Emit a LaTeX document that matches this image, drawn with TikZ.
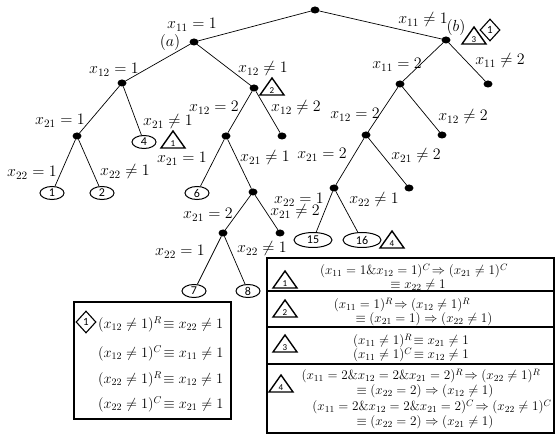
\RequirePackage{fix-cm}
\documentclass[tikz,border=0pt]{standalone}
\usepackage{fontspec}
\newfontfamily\carl{Carlito}
\usetikzlibrary{shapes.geometric}
\tikzset{
  dot/.style={ellipse, fill, minimum width=9pt, minimum height=7pt, inner sep=0pt, outer sep=0pt},
  leaf/.style={ellipse, draw, line width=1pt, minimum width=24pt, minimum height=13pt, inner sep=0pt, font=\carl\fontsize{12}{12}\selectfont},
  bigleaf/.style={leaf, minimum width=38pt, minimum height=15pt},
  lbl/.style={inner sep=0pt, font=\fontsize{16}{18}\selectfont},
  rtxt/.style={inner sep=0pt, font=\fontsize{13.2}{15}\selectfont},
  ltxt/.style={inner sep=0pt, anchor=west, font=\fontsize{14.4}{16}\selectfont},
  edge/.style={line width=0.7pt},
  dia/.style={diamond, draw, line width=1.1pt, inner sep=0pt, minimum width=20pt, minimum height=22pt, font=\carl\fontsize{11}{11}\selectfont},
  trimk/.style={line width=1.4pt, line join=miter},
  trinum/.style={inner sep=0pt, font=\carl\fontsize{9}{9}\selectfont},
  boxst/.style={draw, line width=1.2pt, inner sep=0pt},
}
\newcommand\trimark[3]{%
  \coordinate (#1) at (#2);
  \draw[trimk] ([shift={(-12,8)}]#1) -- ([shift={(0,-9)}]#1) -- ([shift={(12,8)}]#1) -- cycle;
  \node[trinum] (#1n) at ([shift={(0,4)}]#1) {#3};}
\begin{document}
\begin{tikzpicture}[x=1pt,y=-1pt]
\useasboundingbox (0,0) rectangle (556,435);
% tree nodes
\node[dot] (r) at (315,10) {};
\node[dot] (a) at (194,42) {};
\node[dot] (b) at (446,40) {};
\node[dot] (aL) at (122,83) {};
\node[dot] (aR) at (254,88) {};
\node[dot] (aLL) at (77,136) {};
\node[leaf] (e4) at (144,142) {4};
\node[leaf] (e1) at (52,193) {1};
\node[leaf] (e2) at (102,193) {2};
\node[dot] (aRL) at (226,136) {};
\node[dot] (aRR) at (282,136) {};
\node[leaf] (e6) at (197,193) {6};
\node[dot] (aRLR) at (253,192) {};
\node[dot] (m) at (223,233) {};
\node[dot] (mR) at (280,233) {};
\node[leaf] (e7) at (194,291) {7};
\node[leaf] (e8) at (248,291) {8};
\node[dot] (bL) at (400,84) {};
\node[dot] (bR) at (488,84) {};
\node[dot] (bLL) at (366,135) {};
\node[dot] (bLR) at (442,135) {};
\node[dot] (c) at (334,188) {};
\node[dot] (cR) at (409,188) {};
\node[bigleaf] (e15) at (313,240) {15};
\node[bigleaf] (e16) at (362,240) {16};
% edges
\draw[edge] (r) -- (a);
\draw[edge] (r) -- (b);
\draw[edge] (a) -- (aL);
\draw[edge] (a) -- (aR);
\draw[edge] (aL) -- (aLL);
\draw[edge] (aL) -- (e4);
\draw[edge] (aLL) -- (e1);
\draw[edge] (aLL) -- (e2);
\draw[edge] (aR) -- (aRL);
\draw[edge] (aR) -- (aRR);
\draw[edge] (aRL) -- (e6);
\draw[edge] (aRL) -- (aRLR);
\draw[edge] (aRLR) -- (m);
\draw[edge] (aRLR) -- (mR);
\draw[edge] (m) -- (e7);
\draw[edge] (m) -- (e8);
\draw[edge] (b) -- (bL);
\draw[edge] (b) -- (bR);
\draw[edge] (bL) -- (bLL);
\draw[edge] (bL) -- (bLR);
\draw[edge] (bLL) -- (c);
\draw[edge] (bLL) -- (cR);
\draw[edge] (c) -- (e15);
\draw[edge] (c) -- (e16);
% labels
\node[lbl] (l1) at (192,25) {$x_{11}=1$};
\node[lbl] (la) at (170,43) {$(a)$};
\node[lbl] (l2) at (423,20) {$x_{11}\neq 1$};
\node[lbl] (lb) at (456,28) {$(b)$};
\node[lbl] (l3) at (500,61) {$x_{11}\neq 2$};
\node[lbl] (l4) at (397,65) {$x_{11}=2$};
\node[lbl] (l5) at (355,115) {$x_{12}=2$};
\node[lbl] (l6) at (463,117) {$x_{12}\neq 2$};
\node[lbl] (l7) at (322,155) {$x_{21}=2$};
\node[lbl] (l8) at (416,156) {$x_{21}\neq 2$};
\node[lbl] (l9) at (299,200) {$x_{22}=1$};
\node[lbl] (l10) at (295,212) {$x_{21}\neq 2$};
\node[lbl] (l11) at (374,200) {$x_{22}\neq 1$};
\node[lbl] (l12) at (114,70) {$x_{12}=1$};
\node[lbl] (l13) at (263,69) {$x_{12}\neq 1$};
\node[lbl] (l14) at (214,108) {$x_{12}=2$};
\node[lbl] (l15) at (296,108) {$x_{12}\neq 2$};
\node[lbl] (l16) at (60,121) {$x_{21}=1$};
\node[lbl] (l17) at (168,122) {$x_{21}\neq 1$};
\node[lbl] (l18) at (32,173) {$x_{22}=1$};
\node[lbl] (l19) at (125,172) {$x_{22}\neq 1$};
\node[lbl] (l20) at (182,159) {$x_{21}=1$};
\node[lbl] (l21) at (265,158) {$x_{21}\neq 1$};
\node[lbl] (l22) at (208,215) {$x_{21}=2$};
\node[lbl] (l23) at (180,252) {$x_{22}=1$};
\node[lbl] (l24) at (262,249) {$x_{22}\neq 1$};
% markers in tree
\trimark{t3}{474,36}{3}
\node[dia] (d1) at (490,30) {1};
\trimark{t2}{272,87}{2}
\trimark{t1}{173,140}{1}
\trimark{t4}{392,240}{4}
% left box
\node[boxst, minimum width=157pt, minimum height=117pt] (lbox) at (152.5,360.5) {};
\node[dia] (bd1) at (86,322) {1};
\node[ltxt] (lb1) at (98,324) {$(x_{12}\neq 1)^R\!\equiv x_{22}\neq 1$};
\node[ltxt] (lb2) at (98,353) {$(x_{12}\neq 1)^C\!\equiv x_{11}\neq 1$};
\node[ltxt] (lb3) at (98,379) {$(x_{22}\neq 1)^R\!\equiv x_{12}\neq 1$};
\node[ltxt] (lb4) at (98,404) {$(x_{22}\neq 1)^C\!\equiv x_{21}\neq 1$};
% right box
\node[boxst, minimum width=287pt, minimum height=175pt] (rbox) at (410.5,345.5) {};
\draw[line width=1.2pt] (267,291) -- (554,291);
\draw[line width=1.2pt] (267,327) -- (554,327);
\draw[line width=1.2pt] (267,364) -- (554,364);
\trimark{r1}{285,280}{1}
\trimark{r2}{285,309}{2}
\trimark{r3}{285,344}{3}
\trimark{r4}{281,384}{4}
\node[rtxt] (ra1) at (414,271) {$(x_{11}=1\&x_{12}=1)^C\!\Rightarrow(x_{21}\neq 1)^C$};
\node[rtxt] (ra2) at (418,285) {$\equiv x_{22}\neq 1$};
\node[rtxt] (rb1) at (402,305) {$(x_{11}=1)^R\!\Rightarrow(x_{12}\neq 1)^R$};
\node[rtxt] (rb2) at (424,319) {$\equiv(x_{21}=1)\Rightarrow(x_{22}\neq 1)$};
\node[rtxt] (rc1) at (411,341) {$(x_{11}\neq 1)^R\!\equiv x_{21}\neq 1$};
\node[rtxt] (rc2) at (411,355) {$(x_{11}\neq 1)^C\!\equiv x_{12}\neq 1$};
\node[rtxt] (rd1) at (421,376) {$(x_{11}=2\&x_{12}=2\&x_{21}=2)^R\!\Rightarrow(x_{22}\neq 1)^R$};
\node[rtxt] (rd2) at (425,391) {$\equiv(x_{22}=2)\Rightarrow(x_{12}\neq 1)$};
\node[rtxt] (rd3) at (432,407) {$(x_{11}=2\&x_{12}=2\&x_{21}=2)^C\!\Rightarrow(x_{22}\neq 1)^C$};
\node[rtxt] (rd4) at (425,422) {$\equiv(x_{22}=2)\Rightarrow(x_{21}\neq 1)$};
\end{tikzpicture}
\end{document}
